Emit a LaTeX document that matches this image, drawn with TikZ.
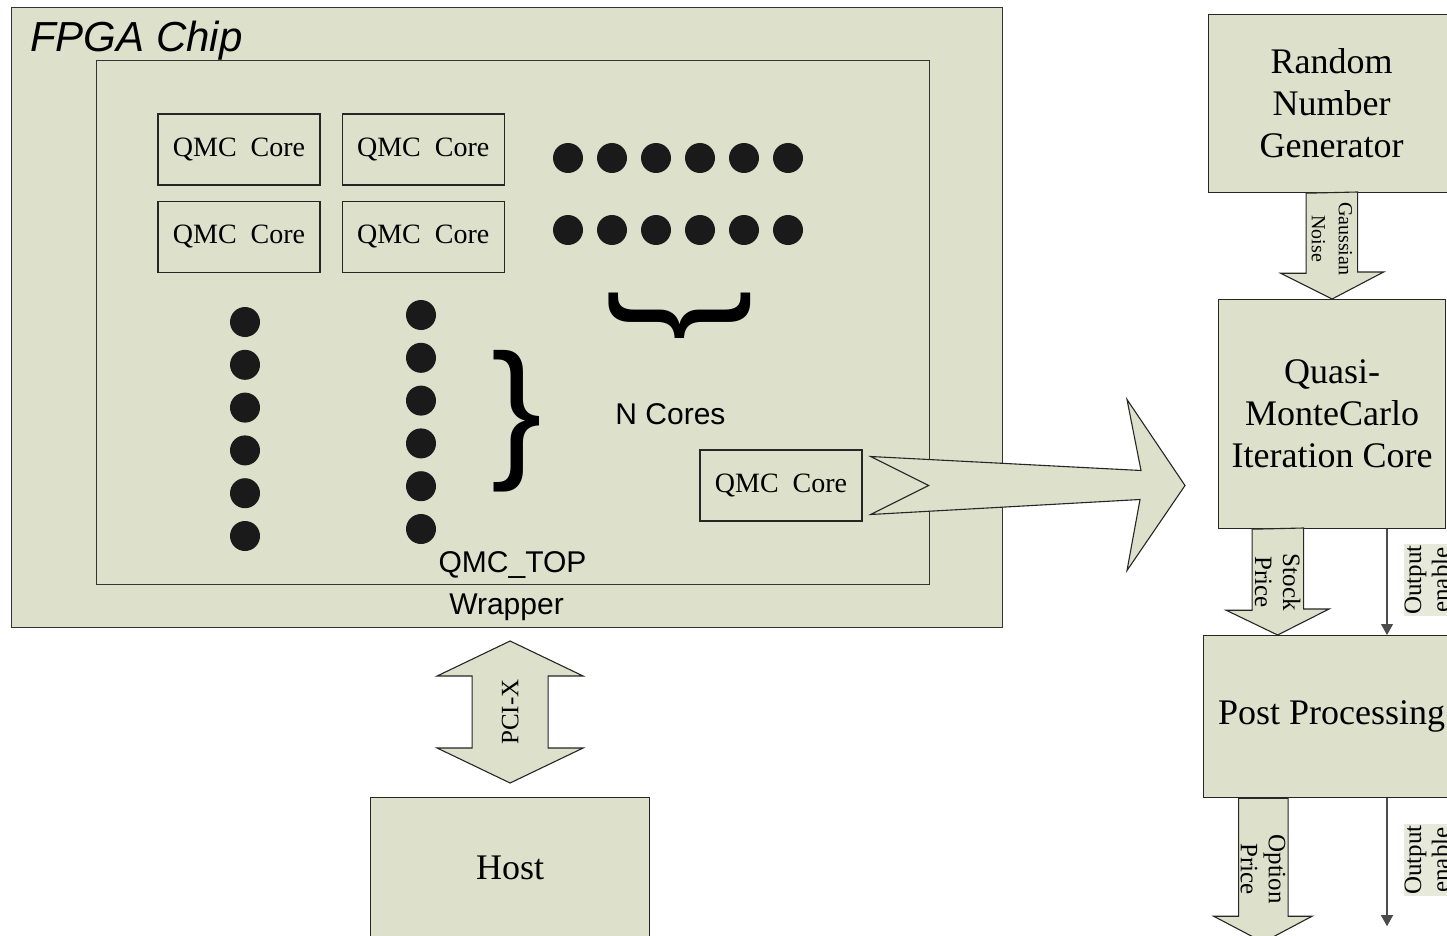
\documentclass[tikz,border=0pt]{standalone}
\usepackage{fontspec}
\setmainfont{Liberation Serif}
\setsansfont{Liberation Sans}
\usetikzlibrary{arrows.meta, positioning, calc}
\definecolor{chipfill}{HTML}{DDE0CB}
\definecolor{dotgray}{HTML}{1A1A1A}

\begin{document}
\begin{tikzpicture}[
    x=1pt, y=-1pt,
    node distance = 15pt and 21pt,
    outer/.style = {
        draw=black!80,
        line width=1.2pt,
        fill=chipfill,
        inner sep=0pt
    },
    block/.style = {
        draw=black!85,
        line width=1.2pt,
        fill=chipfill,
        align=center,
        inner sep=0pt,
        font=\fontsize{36}{42}\selectfont
    },
    core/.style = {
        draw=black!85,
        line width=1.2pt,
        minimum width=162pt,
        minimum height=71pt,
        inner sep=0pt,
        font=\fontsize{28}{30}\selectfont
    },
    fat/.style = {draw=black!85, line width=1.1pt, fill=chipfill, line join=miter},
    sig/.style = {draw=black!70, line width=1.1pt, -{Triangle[width=12pt,length=11pt]}},
    vlabel/.style = {align=center, inner sep=0pt, font=\fontsize{25}{28}\selectfont},
    sanslbl/.style = {inner sep=0pt, font=\sffamily\fontsize{30}{34}\selectfont},
    bracelbl/.style = {inner sep=0pt, font=\sffamily\fontsize{152}{152}\selectfont},
    dot/.style = {fill=dotgray}
]

\useasboundingbox (0,0) rectangle (1447,936);
\clip (0,0) rectangle (1447,936);

%% ── FPGA ───────────────────────────────────────────────────────────────────

\node[outer, minimum width=991pt, minimum height=620pt, anchor=north west] (chip) at (11,7) {};
\node[inner sep=0pt, anchor=base west, font=\sffamily\itshape\fontsize{42}{46}\selectfont] (chiplbl) at (30,52) {FPGA Chip};

\node[outer, minimum width=833pt, minimum height=524pt, anchor=north west] (top) at (96,60) {};
\node[sanslbl, anchor=base] (toplbl) at (512.5,572) {QMC\_TOP};
\node[sanslbl, anchor=base] (wraplbl) at (506.5,614) {Wrapper};

%% ── Cores ──────────────────────────────────────────────────────────────────

\node[core] (core1) at (239,149.5) {QMC\ \ Core};
\node[core, right=of core1] (core2) {QMC\ \ Core};
\node[core, below=of core1] (core3) {QMC\ \ Core};
\node[core, right=of core3] (core4) {QMC\ \ Core};
\node[core] (core5) at (781,485.5) {QMC\ \ Core};

\foreach \i in {0,...,5} {
    \fill[dot] (568+44*\i,158) circle[radius=15pt];
    \fill[dot] (568+44*\i,230) circle[radius=15pt];
    \fill[dot] (245,322+42.8*\i) circle[radius=15pt];
    \fill[dot] (421,315+42.8*\i) circle[radius=15pt];
}

\node[bracelbl, rotate=-90] (hbrace) at (680,316) {\}};
\node[bracelbl] (vbrace) at (517,421) {\}};
\node[sanslbl, anchor=base] (ncores) at (670.5,424) {N Cores};

%% ── Pipeline ───────────────────────────────────────────────────────────────

\node[block, minimum width=246pt, minimum height=178pt, anchor=north west] (rng) at (1208,14) {Random\\Number\\Generator};
\node[block, minimum width=227pt, minimum height=229pt, anchor=north west] (qmc) at (1218,299) {Quasi-\\MonteCarlo\\Iteration Core};
\node[block, minimum width=256pt, minimum height=162pt, anchor=north west] (post) at (1203,635) {Post Processing};
\node[block, minimum width=279pt, minimum height=140pt, anchor=north west] (host) at (370,797) {Host};

%% ── Flechas ────────────────────────────────────────────────────────────────

% core -> Quasi-MonteCarlo
\coordinate (bt) at ($(core5.east)+(8,0)$);
\coordinate (bh) at ($(qmc.west |- core5.east)+(-33,0)$);
\draw[fat] ($(bt)+(0,-29)$) -- ($(bh)+(-44,-15)$) -- ($(bh)+(-58,-86)$) -- (bh)
    -- ($(bh)+(-58,85)$) -- ($(bh)+(-45,14)$) -- ($(bt)+(0,29)$) -- ($(bt)+(58,0)$) -- cycle;

% Gaussian noise
\draw[fat] ($(rng.south)+(-25.5,0)$) -- ++(0,80) -- ++(-25.5,0) -- (qmc.north)
    -- ++(51.5,-27) -- ++(-26,0) -- ++(0,-80) -- cycle;
\node[vlabel, rotate=-90, font=\fontsize{20}{27}\selectfont] (gauss) at ($(rng.south)!0.43!(qmc.north)$) {Gaussian\\Noise};

% stock price
\coordinate (sp) at ($(qmc.south)+(-54.5,0)$);
\draw[fat] ($(sp)+(-25.5,0)$) -- ++(0,81) -- ++(-26,0) -- (sp |- post.north)
    -- ++(51.5,-26) -- ++(-25.5,0) -- ++(0,-81) -- cycle;
\node[vlabel, rotate=-90] (stock) at ($(sp)+(0,53)$) {Stock\\Price};

% output enable
\coordinate (oe) at (1387,0);
\draw[sig] (qmc.south -| oe) -- (post.north -| oe);
\node[vlabel, rotate=90, fill=chipfill!70!white, inner sep=1pt] (oe1) at (1427,580) {Output\\enable};

% option price
\coordinate (op) at ($(post.south)+(-68.5,0)$);
\coordinate (opend) at ($(op)+(0,144)$);
\draw[fat] ($(op)+(-24.5,0)$) -- ++(0,118) -- ++(-25,0) -- (opend)
    -- ++(49,-26) -- ++(-24,0) -- ++(0,-118) -- cycle;
\node[vlabel, rotate=-90] (option) at ($(op)+(0,71)$) {Option\\Price};

\coordinate (oeend) at ($(post.south -| oe)+(0,128)$);
\draw[sig] (post.south -| oe) -- (oeend);
\node[vlabel, rotate=90, fill=chipfill!70!white, inner sep=1pt] (oe2) at (1427,860) {Output\\enable};

% PCI-X
\draw[fat] ($(host.north)+(0,-156)$) -- ++(73,35) -- ++(-35,0) -- ++(0,72) -- ++(35,0)
    -- ++(-73,35) -- ++(-73,-35) -- ++(35,0) -- ++(0,-72) -- ++(-35,0) -- cycle;
\node[vlabel, rotate=90] (pcix) at ($(host.north)+(0,-85)$) {PCI-X};

\end{tikzpicture}
\end{document}
